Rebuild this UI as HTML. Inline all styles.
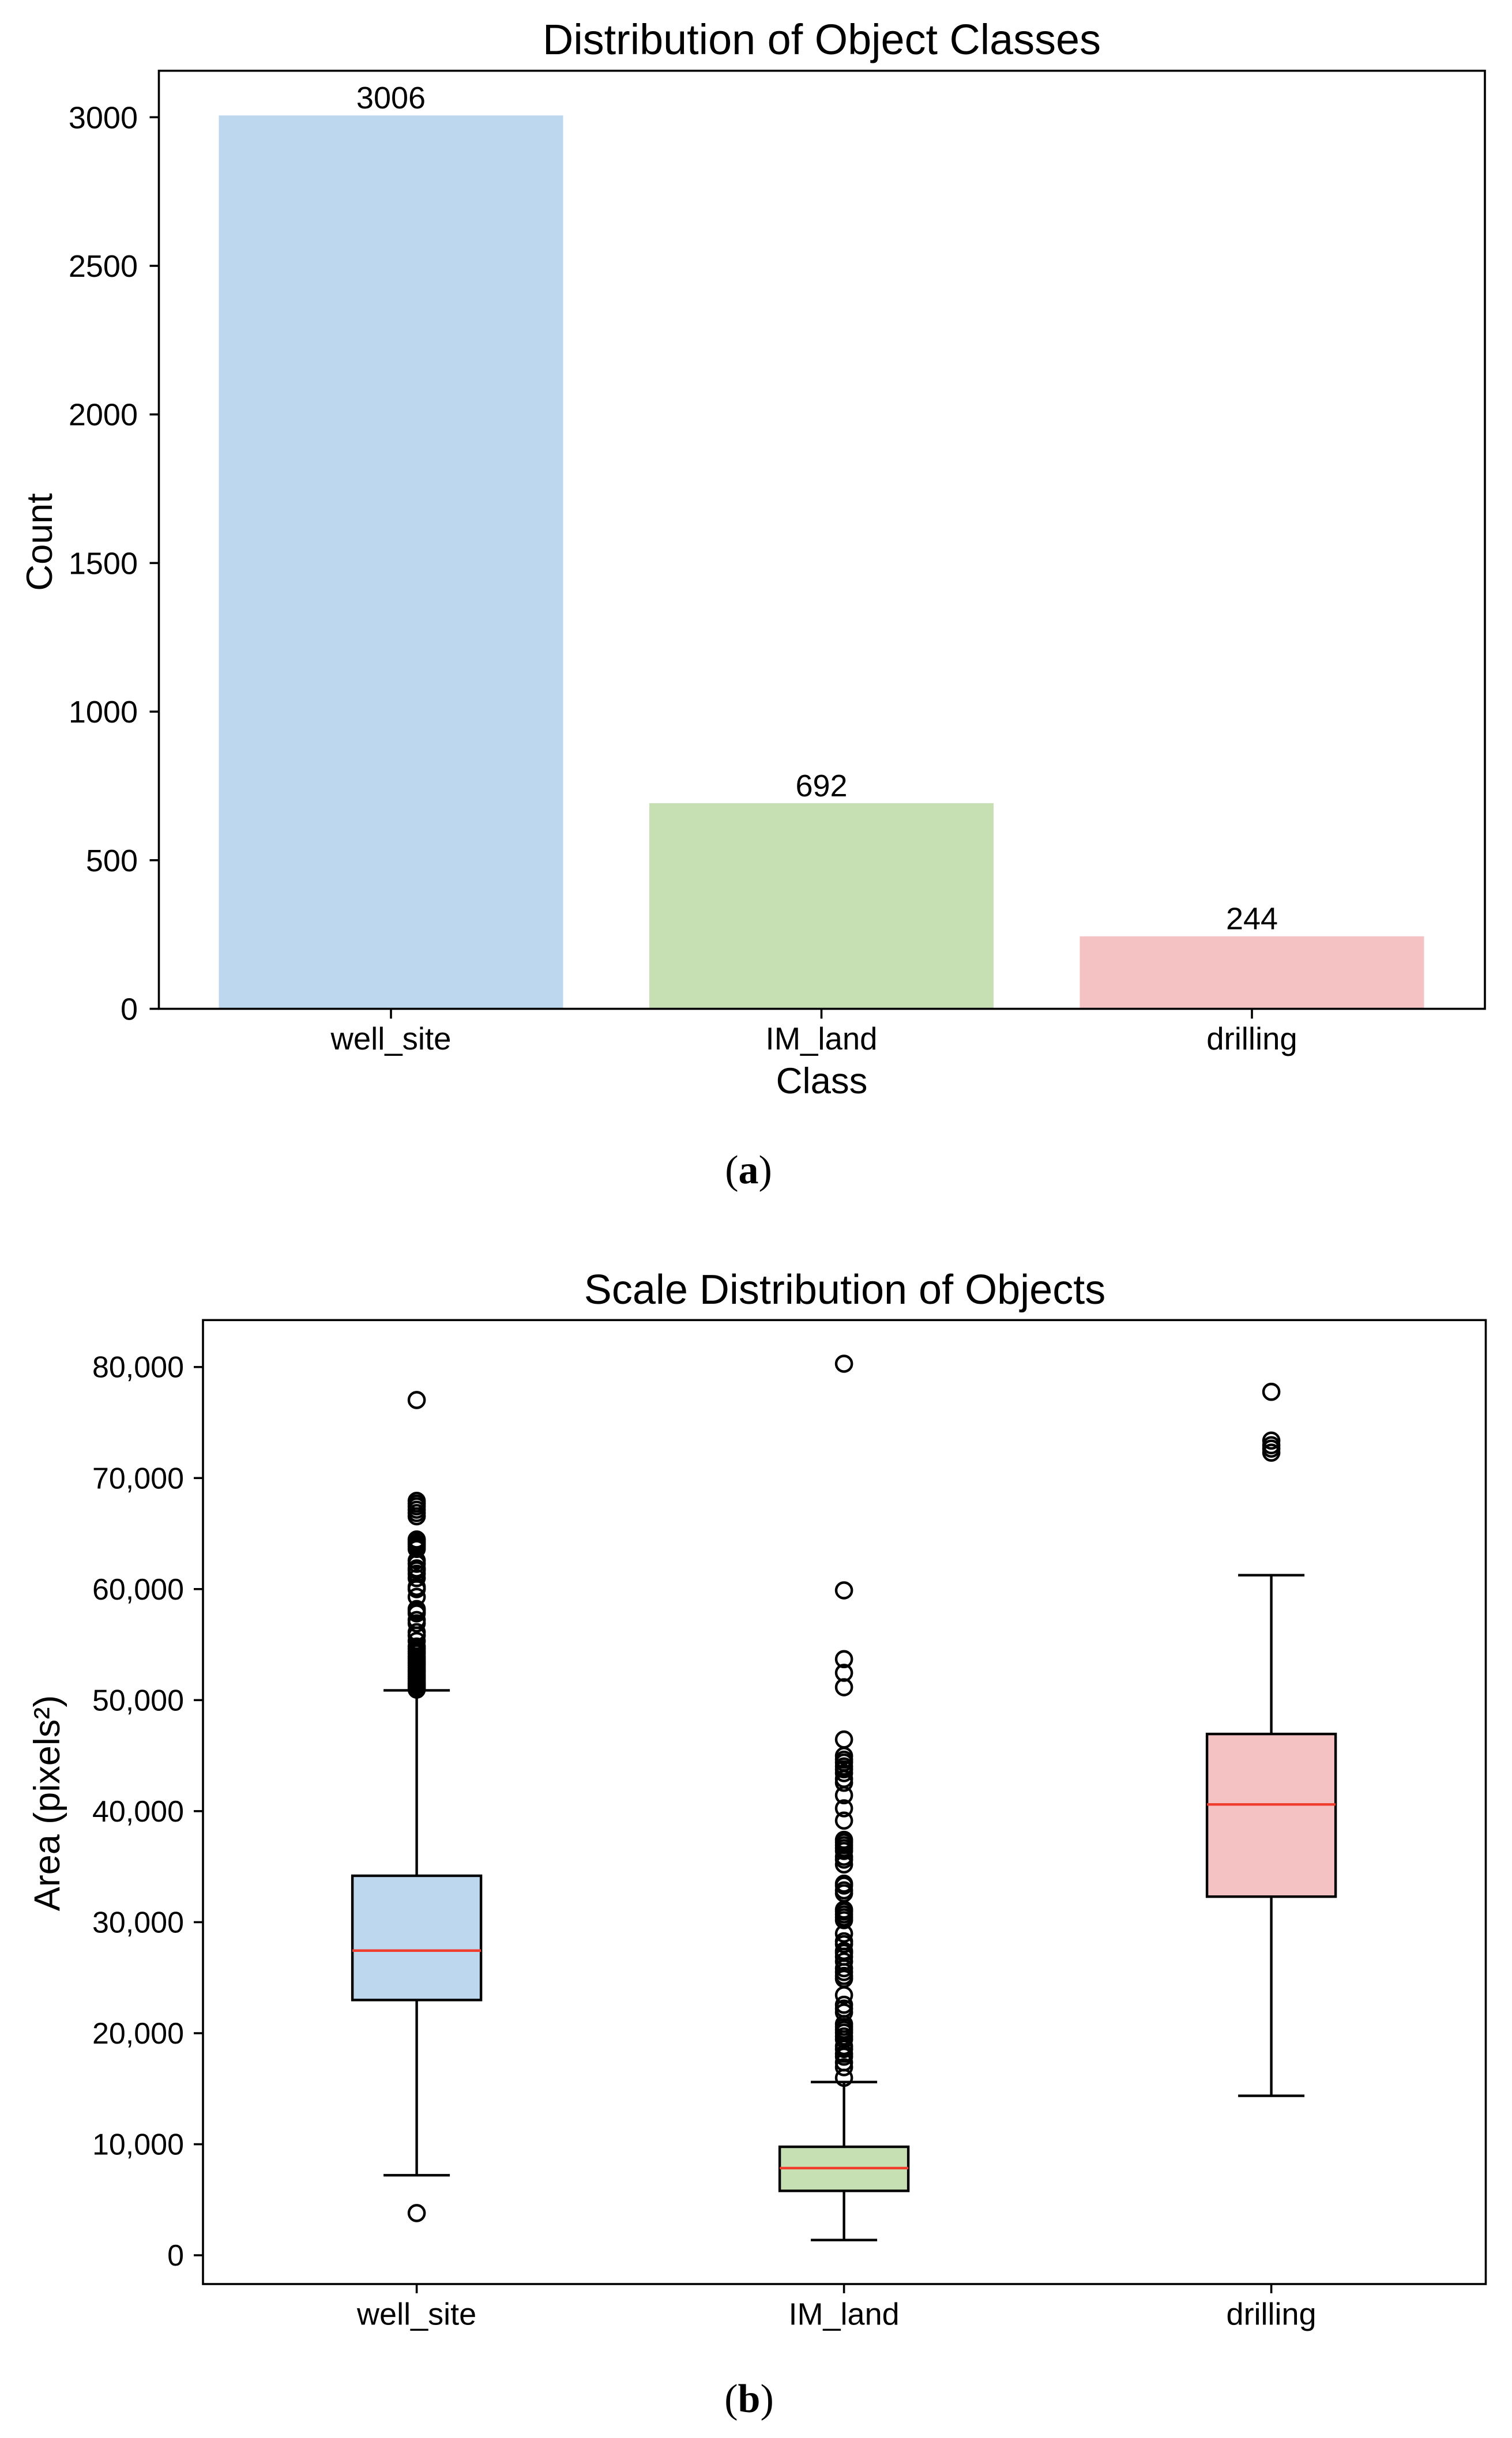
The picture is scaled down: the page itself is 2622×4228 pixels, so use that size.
<!DOCTYPE html>
<html lang="en">
<head>
<meta charset="utf-8">
<title>Distribution of Object Classes and Scale Distribution of Objects</title>
<style>
html,body{margin:0;padding:0;background:#fff;width:2622px;height:4228px;overflow:hidden}
svg{display:block}
text{font-family:"Liberation Sans",Arial,sans-serif;fill:#000}
.cap{font-family:"Liberation Serif",serif}
</style>
</head>
<body>
<svg id="figure" xmlns="http://www.w3.org/2000/svg" width="2622" height="4228" viewBox="0 0 2622 4228">
  <rect x="0" y="0" width="2622" height="4228" fill="#fff"/>
  <g id="chart-a"></g>
  <g id="chart-b"></g>
  <text x="1425" y="94" font-size="73.8" text-anchor="middle">Distribution of Object Classes</text>
  <text x="1425" y="1896" font-size="63.5" text-anchor="middle">Class</text>
  <text x="0" y="0" font-size="63.5" text-anchor="middle" transform="translate(90 940) rotate(-90)">Count</text>
  <text class="cap" x="1298" y="2052" font-size="70" text-anchor="middle">(<tspan font-weight="bold">a</tspan>)</text>
  <text x="1465" y="2261" font-size="72" text-anchor="middle">Scale Distribution of Objects</text>
  <text x="0" y="0" font-size="63" text-anchor="middle" transform="translate(103 3127) rotate(-90)">Area (pixels²)</text>
  <text class="cap" x="1299" y="4183" font-size="70" text-anchor="middle">(<tspan font-weight="bold">b</tspan>)</text>
</svg>
<script>
// ---- Panel (a) data ----
const barCategories = ['well_site', 'IM_land', 'drilling'];
const barCounts = [3006, 692, 244];
const barTickValues = [0, 500, 1000, 1500, 2000, 2500, 3000];

// ---- Panel (b) data ----
const boxCategories = ['well_site', 'IM_land', 'drilling'];
const boxQ1 = [22990, 5800, 32300];
const boxMedian = [27440, 7850, 40600];
const boxQ3 = [34180, 9770, 46950];
const boxWhiskerLow = [7210, 1370, 14360];
const boxWhiskerHigh = [50880, 15600, 61250];
const boxTickValues = [0, 10000, 20000, 30000, 40000, 50000, 60000, 70000, 80000];
const fliersWellSite = [77025, 67945, 67700, 67450, 67150, 66850, 66555,
  64466, 64327, 64168, 64009, 63810, 63612, 62578, 62280, 61863, 61684, 61386, 60988,
  60193, 59994, 59298, 58205, 58006, 57808, 57212, 56914, 56119, 55821, 55324,
  54827, 54628, 54390, 54191, 53933, 53734, 53535, 53337, 53138, 52939, 52720, 52541,
  52342, 52143, 51945, 51746, 51547, 51408, 51249, 51090, 50951, 3800];
const fliersImLand = [80296, 59885, 53688, 52459, 51160, 46452,
  44981, 44634, 44375, 44028, 43769, 43423, 42903, 42557, 41432, 40254, 39146,
  37416, 37191, 36931, 36671, 36412, 35892, 35632, 35200, 33468, 33295, 32863, 32603,
  31131, 30958, 30699, 30439, 30179, 28968, 28275, 28016, 27410, 27236, 26890, 26458,
  25852, 25505, 25159, 24899, 23428, 22563, 22216, 21870, 20831, 20572, 20312, 20052,
  19706, 19446, 18841, 18581, 18148, 17888, 17369, 16936, 15984];
const fliersDrilling = [77766, 73374, 72960, 72650, 72290];

// ---- Layout and styles ----
const NS = 'http://www.w3.org/2000/svg';
const categoryColors = ['#bdd7ee', '#c6e0b4', '#f4c2c3'];
const plotA = {left: 275.5, right: 2575, top: 122.7, bottom: 1749.5};
const plotB = {left: 352, right: 2576.5, top: 2289.3, bottom: 3961};
const spineWidth = 3.6;
const markWidth = 4.4;

function xA(i) { return 678 + 746.5 * i; }
function yA(v) { return 1749.5 - v * 0.5154; }
function xB(i) { return 722.6 + 741 * i; }
function yB(v) { return 3911.1 - v * 0.019255; }

function make(parent, tag, props, text) {
  const el = document.createElementNS(NS, tag);
  for (const k in props) el.setAttribute(k, props[k]);
  if (text !== undefined) el.textContent = text;
  parent.appendChild(el);
  return el;
}
function lineProps(x1, y1, x2, y2, w) {
  return {x1: x1, y1: y1, x2: x2, y2: y2, stroke: '#000', 'stroke-width': w};
}
function slug(s) { return s.toLowerCase().replace(/_/g, '-'); }

const chartA = document.getElementById('chart-a');
const chartB = document.getElementById('chart-b');

// ---- Panel (a) bars ----
barCategories.forEach(function (name, i) {
  const w = 597;
  const bar = make(chartA, 'rect', {x: xA(i) - w / 2, y: yA(barCounts[i]), width: w, height: yA(0) - yA(barCounts[i]), fill: categoryColors[i]});
  
  
  const lab = make(chartA, 'text', {x: xA(i), y: yA(barCounts[i]) - 12, 'font-size': 54, 'text-anchor': 'middle'}, String(barCounts[i]));
  
  
  const tick = make(chartA, 'line', lineProps(xA(i), plotA.bottom, xA(i), plotA.bottom + 17, spineWidth));
  
  
  const tl = make(chartA, 'text', {x: xA(i), y: 1820, 'font-size': 54.5, 'text-anchor': 'middle'}, name);
  
  
});

barTickValues.forEach(function (v) {
  const tick = make(chartA, 'line', lineProps(plotA.left - 16, yA(v), plotA.left, yA(v), spineWidth));
  
  
  const tl = make(chartA, 'text', {x: 239, y: yA(v) + 19, 'font-size': 54, 'text-anchor': 'end'}, String(v));
  
  
});

const frameA = make(chartA, 'rect', {x: plotA.left, y: plotA.top, width: plotA.right - plotA.left, height: plotA.bottom - plotA.top, fill: 'none', stroke: '#000', 'stroke-width': spineWidth});



// ---- Panel (b) ticks ----
boxTickValues.forEach(function (v) {
  const tick = make(chartB, 'line', lineProps(plotB.left - 16, yB(v), plotB.left, yB(v), spineWidth));
  
  
  const tl = make(chartB, 'text', {x: 319, y: yB(v) + 18, 'font-size': 52, 'text-anchor': 'end'}, v.toLocaleString('en-US'));
  
  
});

// ---- Panel (b) boxes ----
const flierSets = [fliersWellSite, fliersImLand, fliersDrilling];
boxCategories.forEach(function (name, i) {
  const cx = xB(i);
  const boxW = 223;
  const capW = 115;
  const key = slug(name);

  const wLow = make(chartB, 'line', lineProps(cx, yB(boxQ1[i]), cx, yB(boxWhiskerLow[i]), markWidth));
  
  
  const wHigh = make(chartB, 'line', lineProps(cx, yB(boxQ3[i]), cx, yB(boxWhiskerHigh[i]), markWidth));
  
  
  const cLow = make(chartB, 'line', lineProps(cx - capW / 2, yB(boxWhiskerLow[i]), cx + capW / 2, yB(boxWhiskerLow[i]), markWidth));
  
  
  const cHigh = make(chartB, 'line', lineProps(cx - capW / 2, yB(boxWhiskerHigh[i]), cx + capW / 2, yB(boxWhiskerHigh[i]), markWidth));
  
  

  const box = make(chartB, 'rect', {x: cx - boxW / 2, y: yB(boxQ3[i]), width: boxW, height: yB(boxQ1[i]) - yB(boxQ3[i]), fill: categoryColors[i], stroke: '#000', 'stroke-width': markWidth});
  
  

  const med = make(chartB, 'line', {x1: cx - boxW / 2, y1: yB(boxMedian[i]), x2: cx + boxW / 2, y2: yB(boxMedian[i]), stroke: '#f03c2c', 'stroke-width': 4.4});
  
  

  flierSets[i].forEach(function (v, j) {
    const c = make(chartB, 'circle', {cx: cx, cy: yB(v), r: 13.6, fill: 'none', stroke: '#000', 'stroke-width': 4.4});
    
    
  });

  const tick = make(chartB, 'line', lineProps(cx, plotB.bottom, cx, plotB.bottom + 16, spineWidth));
  
  
  const tl = make(chartB, 'text', {x: cx, y: 4031.6, 'font-size': 54, 'text-anchor': 'middle'}, name);
  
  
});

const frameB = make(chartB, 'rect', {x: plotB.left, y: plotB.top, width: plotB.right - plotB.left, height: plotB.bottom - plotB.top, fill: 'none', stroke: '#000', 'stroke-width': spineWidth});


</script>
</body>
</html>
